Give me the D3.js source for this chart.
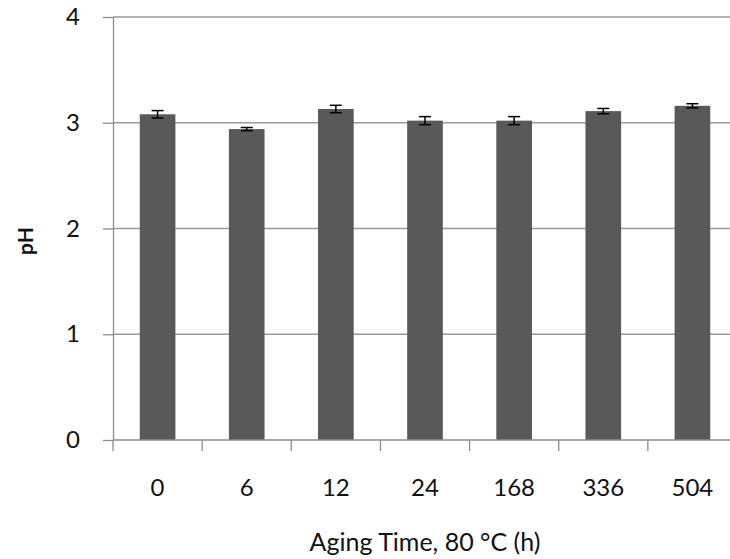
<!doctype html>
<html>
	<head>
		<style>
			body{ margin: 0; background: #fff; }
			#chart text{ font-family: Lato, "Open Sans", sans-serif; fill: #111; }
		</style>
	</head>
	<body>
		<svg id=chart></svg>

		<script src="https://d3js.org/d3.v7.min.js"></script>
		<script>
			var hours = ["0", "6", "12", "24", "168", "336", "504"];
			var ph = [3.08, 2.94, 3.13, 3.02, 3.02, 3.11, 3.16];
			var phErr = [0.035, 0.015, 0.035, 0.038, 0.038, 0.025, 0.02];
			var yTicks = [0, 1, 2, 3, 4];

			var chart = d3.select("#chart")
				.attr("width", 730)
				.attr("height", 559);

			var plotLeft = 113, plotRight = 737, plotTop = 17, plotBottom = 440;

			var x = d3.scaleBand()
				.domain(hours)
				.range([plotLeft, plotRight])
				.paddingInner(0.6)
				.paddingOuter(0.3);
			var y = d3.scaleLinear()
				.domain([0, 4])
				.range([plotBottom, plotTop]);

			// grid lines
			chart.append("g")
				.selectAll("line")
				.data(yTicks.filter(function(d) { return d > 0; }))
				.enter().append("line")
					.attr("x1", plotLeft)
					.attr("x2", 730)
					.attr("y1", function(d) { return y(d); })
					.attr("y2", function(d) { return y(d); })
					.attr("stroke", "#9a9a9a")
					.attr("stroke-width", 1.3);

			// bars
			chart.append("g")
				.selectAll("rect")
				.data(ph)
				.enter().append("rect")
					.attr("x", function(d, i) { return x(hours[i]); })
					.attr("width", x.bandwidth())
					.attr("y", function(d) { return y(d); })
					.attr("height", function(d) { return y(0) - y(d); })
					.attr("fill", "#595959");

			// error bars
			var err = chart.append("g")
				.attr("stroke", "#000")
				.attr("stroke-width", 1.5)
				.selectAll("g")
				.data(ph)
				.enter().append("g")
					.attr("transform", function(d, i) { return "translate(" + (x(hours[i]) + x.bandwidth() / 2) + ",0)"; });
			err.append("line")
				.attr("y1", function(d, i) { return y(d + phErr[i]); })
				.attr("y2", function(d, i) { return y(d - phErr[i]); });
			err.append("line")
				.attr("x1", -6).attr("x2", 6)
				.attr("y1", function(d, i) { return y(d + phErr[i]); })
				.attr("y2", function(d, i) { return y(d + phErr[i]); });
			err.append("line")
				.attr("x1", -6).attr("x2", 6)
				.attr("y1", function(d, i) { return y(d - phErr[i]); })
				.attr("y2", function(d, i) { return y(d - phErr[i]); });

			// y axis
			var yAxis = chart.append("g")
				.attr("transform", "translate(" + plotLeft + ",0)")
				.call(d3.axisLeft(y).tickValues(yTicks).tickSize(10).tickSizeOuter(0).tickPadding(23).tickFormat(d3.format("d")));
			yAxis.select(".domain").attr("stroke", "#8c8c8c").attr("stroke-width", 1.3);
			yAxis.selectAll(".tick line").attr("stroke", "#8c8c8c").attr("stroke-width", 1.3);
			yAxis.selectAll("text").attr("font-size", 24).attr("fill", null);

			// x axis
			var xAxis = chart.append("g")
				.attr("transform", "translate(0," + plotBottom + ")");
			xAxis.append("line")
				.attr("x1", plotLeft).attr("x2", 730)
				.attr("stroke", "#8c8c8c").attr("stroke-width", 1.3);
			xAxis.selectAll(".sep")
				.data(hours)
				.enter().append("line")
					.attr("class", "sep")
					.attr("x1", function(d) { return x(d) - x.step() * x.paddingInner() / 2; })
					.attr("x2", function(d) { return x(d) - x.step() * x.paddingInner() / 2; })
					.attr("y1", 0).attr("y2", 11)
					.attr("stroke", "#8c8c8c").attr("stroke-width", 1.3);
			xAxis.selectAll("text")
				.data(hours)
				.enter().append("text")
					.attr("x", function(d) { return x(d) + x.bandwidth() / 2; })
					.attr("y", 56)
					.attr("text-anchor", "middle")
					.attr("font-size", 24)
					.text(function(d) { return d; });

			// axis titles
			chart.append("text")
				.attr("x", 425)
				.attr("y", 551)
				.attr("text-anchor", "middle")
				.attr("font-size", 25)
				.text("Aging Time, 80 °C (h)");
			chart.append("text")
				.attr("transform", "translate(33,241) rotate(-90)")
				.attr("text-anchor", "middle")
				.attr("font-size", 21)
				.attr("font-weight", "bold")
				.text("pH");
		</script>
	</body>
</html>
